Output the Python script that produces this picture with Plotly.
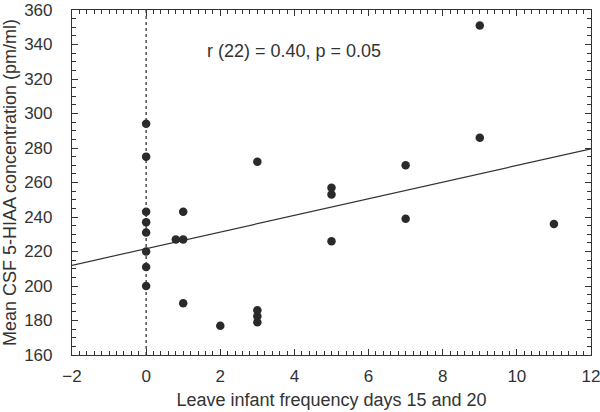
import plotly.graph_objects as go

# Data
leave_freq = [0, 0, 0, 0, 0, 0, 0, 0,
              0.8, 1, 1, 1,
              2,
              3, 3, 3, 3,
              5, 5, 5,
              7, 7,
              9, 9,
              11]
csf_5hiaa = [294, 275, 243, 237, 231, 220, 211, 200,
             227, 243, 227, 190,
             177,
             272, 186, 182.5, 179,
             257, 253, 226,
             270, 239,
             351, 286,
             236]
trend_x = [-2, 12]
trend_y = [212, 279.5]
ref_x = 0
stat_text = "r (22) = 0.40, p = 0.05"
stat_pos = (4.0, 336)

FONT = "Liberation Sans, Arial, sans-serif"
INK = "#333333"

fig = go.Figure()
fig.add_trace(go.Scatter(x=trend_x, y=trend_y, mode="lines",
                         line=dict(color=INK, width=1.2), hoverinfo="skip",
                         showlegend=False))
fig.add_trace(go.Scatter(x=leave_freq, y=csf_5hiaa, mode="markers",
                         marker=dict(color="#2a2a2a", size=8.5, line=dict(width=0)),
                         showlegend=False))
fig.add_vline(x=ref_x, line=dict(color=INK, width=1.3, dash="3px,3px"))
fig.add_annotation(x=stat_pos[0], y=stat_pos[1], text=stat_text, showarrow=False,
                   font=dict(family=FONT, size=18, color=INK), xanchor="center",
                   yanchor="middle")

axis_common = dict(showline=True, linecolor=INK, linewidth=1.2, mirror="ticks",
                   ticks="inside", ticklen=6, tickwidth=1.2, tickcolor=INK,
                   showgrid=False, zeroline=False, automargin=False,
                   ticklabeloverflow="allow",
                   tickfont=dict(family=FONT, size=17, color=INK))
fig.update_xaxes(range=[-2, 12], dtick=2, tick0=0, ticklabelstandoff=5,
                 minor=dict(dtick=0.2, ticks="inside", ticklen=3.5, tickcolor=INK, tickwidth=1),
                 title=dict(text="Leave infant frequency days 15 and 20",
                            font=dict(family=FONT, size=18, color=INK), standoff=8),
                 **axis_common)
fig.update_yaxes(range=[160, 360], dtick=20, tick0=160, ticklabelstandoff=15,
                 minor=dict(dtick=5, ticks="inside", ticklen=3.5, tickcolor=INK, tickwidth=1),
                 title=dict(text="Mean CSF 5-HIAA concentration (pm/ml)",
                            font=dict(family=FONT, size=18, color=INK), standoff=6),
                 **axis_common)
fig.update_layout(width=600, height=412, margin=dict(l=72, r=9, t=10, b=57),
                  plot_bgcolor="white", paper_bgcolor="white")
fig.write_html("out.html", config={"displayModeBar": False},
               post_script="document.body.style.margin='0';")
